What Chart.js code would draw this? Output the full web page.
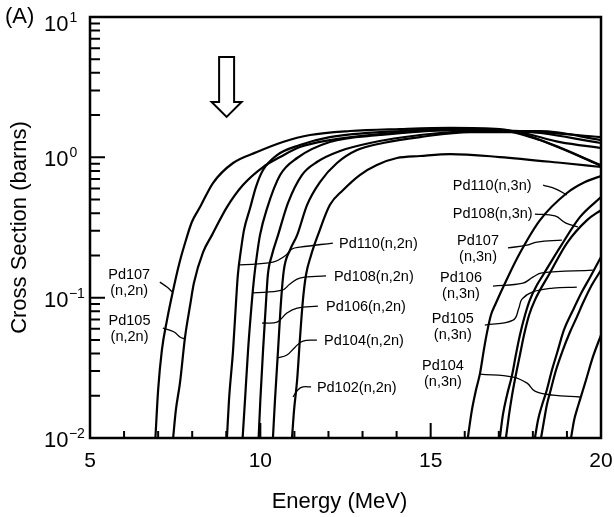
<!DOCTYPE html>
<html>
<head>
<meta charset="utf-8">
<script src="https://cdn.jsdelivr.net/npm/chart.js@4.4.0/dist/chart.umd.min.js"></script>
<style>
  html, body { margin: 0; padding: 0; background: #fff; }
  #wrap { width: 614px; height: 517px; position: relative; }
</style>
</head>
<body>
<div id="wrap"><canvas id="xs-chart"></canvas></div>
<script>
// Pd (n,2n) / (n,3n) cross sections: [energy (MeV), cross section (barns)]
const pd107n2n = [[6.92,0.010],[7.00,0.0220],[7.11,0.0423],[7.26,0.0692],[7.44,0.113],[7.61,0.171],[7.79,0.245],[7.99,0.346],[8.23,0.442],[8.61,0.656],[9.20,0.911],[9.90,1.09],[10.66,1.285],[11.46,1.442],[12.63,1.54],[14.10,1.59],[15.57,1.62],[17.03,1.59],[17.62,1.49],[18.80,1.165],[20.0,0.87]];
const pd105n2n = [[7.44,0.010],[7.52,0.0158],[7.64,0.0246],[7.79,0.0524],[7.94,0.0886],[8.05,0.127],[8.32,0.211],[8.58,0.279],[9.02,0.442],[9.49,0.635],[10.08,0.853],[10.58,1.005],[11.16,1.184],[12.04,1.328],[13.51,1.466],[15.57,1.565],[17.62,1.54],[20.0,1.265]];
const pd110n2n = [[9.02,0.010],[9.08,0.0186],[9.20,0.0423],[9.29,0.0961],[9.34,0.145],[9.43,0.218],[9.52,0.303],[9.70,0.435],[9.87,0.614],[10.08,0.812],[10.49,1.038],[11.16,1.224],[12.04,1.395],[14.10,1.54],[15.57,1.59],[17.03,1.565],[18.21,1.328],[20.0,0.88]];
const pd108n2n = [[9.48,0.010],[9.55,0.0186],[9.64,0.0423],[9.73,0.0816],[9.81,0.1336],[9.90,0.201],[9.99,0.279],[10.20,0.435],[10.58,0.748],[11.08,0.989],[12.04,1.285],[13.51,1.442],[15.57,1.565],[17.33,1.54],[18.80,1.285],[20.0,1.165]];
const pd106n2n = [[9.95,0.010],[10.00,0.0186],[10.08,0.0423],[10.17,0.0961],[10.22,0.145],[10.34,0.201],[10.52,0.279],[10.81,0.472],[11.22,0.748],[11.66,0.926],[12.34,1.109],[13.22,1.265],[14.69,1.442],[16.45,1.54],[18.21,1.54],[20.0,1.328]];
const pd104n2n = [[10.37,0.010],[10.43,0.0186],[10.52,0.0423],[10.61,0.0961],[10.69,0.157],[10.87,0.218],[11.08,0.279],[11.37,0.457],[11.75,0.667],[12.25,0.911],[12.84,1.127],[13.60,1.265],[14.69,1.395],[16.15,1.514],[17.91,1.514],[20.0,1.395]];
const pd102n2n = [[10.93,0.010],[10.99,0.0158],[11.08,0.0259],[11.16,0.0499],[11.25,0.0961],[11.34,0.145],[11.49,0.201],[11.69,0.279],[12.04,0.457],[12.43,0.585],[12.92,0.748],[13.42,0.882],[14.01,0.989],[14.69,1.022],[15.57,1.055],[17.03,1.005],[18.88,0.911],[20.0,0.853]];

const pd110n3n = [[16.09,0.010],[16.21,0.0158],[16.33,0.0220],[16.45,0.0290],[16.56,0.0423],[16.65,0.0559],[16.77,0.0752],[16.89,0.0886],[17.24,0.136],[17.62,0.208],[18.21,0.357],[19.00,0.557],[19.53,0.667],[20.0,0.736]];
const pd108n3n = [[17.03,0.010],[17.12,0.0146],[17.24,0.0202],[17.39,0.0281],[17.50,0.0390],[17.62,0.0541],[17.77,0.0752],[17.91,0.0961],[18.12,0.123],[18.30,0.145],[18.80,0.229],[19.38,0.375],[20.0,0.521]];
const pd107n3n = [[17.21,0.010],[17.30,0.0146],[17.39,0.0202],[17.50,0.0281],[17.62,0.0390],[17.74,0.0541],[17.89,0.0752],[18.06,0.0961],[18.50,0.150],[19.00,0.245],[19.59,0.357],[20.0,0.421]];
const pd106n3n = [[18.06,0.010],[18.15,0.0134],[18.27,0.0172],[18.41,0.0220],[18.56,0.0305],[18.71,0.0403],[18.91,0.0587],[19.18,0.0816],[19.44,0.110],[19.68,0.140],[20.0,0.195]];
const pd105n3n = [[18.24,0.010],[18.33,0.0134],[18.41,0.0172],[18.50,0.0209],[18.68,0.0305],[18.88,0.0423],[19.09,0.0569],[19.29,0.0727],[19.47,0.0915],[19.73,0.123],[20.0,0.157]];
const pd104n3n = [[19.12,0.010],[19.21,0.0134],[19.29,0.0158],[19.38,0.0186],[19.56,0.0259],[19.76,0.0377],[20.0,0.0541]];

const curves = [pd107n2n, pd105n2n, pd110n2n, pd108n2n, pd106n2n, pd104n2n, pd102n2n,
                pd110n3n, pd108n3n, pd107n3n, pd106n3n, pd105n3n, pd104n3n];

// axis ticks
const xTicks = [5, 10, 15, 20];
const yDecades = [-2, -1, 0, 1];

// curve labels and their leader lines (data coordinates)
const curveLabels = [
  { text: ['Pd110(n,2n)'], at: [12.31, 0.241], align: 'left' },
  { text: ['Pd108(n,2n)'], at: [12.16, 0.140], align: 'left' },
  { text: ['Pd106(n,2n)'], at: [11.93, 0.0857], align: 'left' },
  { text: ['Pd104(n,2n)'], at: [11.87, 0.0491], align: 'left' },
  { text: ['Pd102(n,2n)'], at: [11.66, 0.0227], align: 'left' },
  { text: ['Pd107', '(n,2n)'], at: [6.15, 0.145], align: 'center' },
  { text: ['Pd105', '(n,2n)'], at: [6.16, 0.0681], align: 'center' },
  { text: ['Pd110(n,3n)'], at: [15.65, 0.624], align: 'left' },
  { text: ['Pd108(n,3n)'], at: [15.65, 0.394], align: 'left' },
  { text: ['Pd107', '(n,3n)'], at: [16.39, 0.253], align: 'center' },
  { text: ['Pd106', '(n,3n)'], at: [15.89, 0.138], align: 'center' },
  { text: ['Pd105', '(n,3n)'], at: [15.65, 0.0704], align: 'center' },
  { text: ['Pd104', '(n,3n)'], at: [15.36, 0.0325], align: 'center' }
];
const leaders = [
  [[9.40,0.171],[10.37,0.179],[10.72,0.198],[10.93,0.222],[11.16,0.229],[12.13,0.245]],
  [[9.78,0.108],[10.64,0.113],[10.87,0.125],[11.16,0.138],[11.93,0.143]],
  [[10.05,0.0659],[10.49,0.0670],[10.78,0.0777],[11.08,0.0843],[11.69,0.0871]],
  [[10.49,0.0371],[10.78,0.0390],[11.02,0.0444],[11.25,0.0491],[11.66,0.0499]],
  [[10.96,0.0196],[11.10,0.0220],[11.25,0.0231],[11.49,0.0231]],
  [[7.05,0.129],[7.26,0.119],[7.41,0.110]],
  [[7.14,0.0607],[7.47,0.0569],[7.64,0.0524],[7.79,0.0507]],
  [[18.30,0.635],[18.68,0.594],[19.00,0.539]],
  [[18.06,0.394],[18.65,0.382],[18.97,0.340],[19.32,0.319]],
  [[17.27,0.226],[17.83,0.237],[18.12,0.249],[18.85,0.257]],
  [[16.83,0.121],[17.71,0.127],[18.00,0.140],[18.27,0.150],[19.76,0.157]],
  [[16.59,0.0638],[17.42,0.0692],[17.59,0.0843],[17.68,0.0977],[18.00,0.110],[18.59,0.117],[19.29,0.119]],
  [[16.45,0.0285],[17.42,0.0272],[17.83,0.0246],[18.06,0.0216],[18.59,0.0202],[19.38,0.0196]]
];

// hollow arrow marker
const arrowMark = { energy: 9.01, top: 5.19, headBase: 2.48, tip: 1.94 };

const FONT = '"Liberation Sans", Arial, sans-serif';

function toXY(pts) {
    return pts.map(p => ({ x: p[0], y: p[1] }));
}

const datasets = [];
curves.forEach(c => {
    datasets.push({
        data: toXY(c),
        showLine: true,
        borderColor: '#000',
        borderWidth: 2.2,
        pointRadius: 0,
        cubicInterpolationMode: 'monotone'
    });
});
leaders.forEach(l => {
    datasets.push({
        data: toXY(l),
        showLine: true,
        borderColor: '#000',
        borderWidth: 1.3,
        pointRadius: 0,
        tension: 0.4
    });
});

const decorPlugin = {
    id: 'decor',
    beforeDraw(chart) {
        const ctx = chart.ctx;
        ctx.save();
        ctx.fillStyle = '#fff';
        ctx.fillRect(0, 0, chart.width, chart.height);
        ctx.restore();
    },
    afterDatasetsDraw(chart) {
        const { ctx, chartArea: a, scales: { x, y } } = chart;
        ctx.save();
        ctx.strokeStyle = '#000';
        ctx.fillStyle = '#000';

        // frame
        ctx.lineWidth = 2.5;
        ctx.strokeRect(a.left, a.top, a.right - a.left, a.bottom - a.top);

        // inward ticks
        ctx.lineWidth = 2;
        ctx.beginPath();
        for (let e = 5; e <= 20; e++) {
            const px = x.getPixelForValue(e);
            const len = xTicks.includes(e) ? 15 : 7;
            ctx.moveTo(px, a.bottom);
            ctx.lineTo(px, a.bottom - len);
        }
        yDecades.forEach(d => {
            const steps = d < 1 ? 9 : 1;
            for (let m = 1; m <= steps; m++) {
                const py = y.getPixelForValue(m * Math.pow(10, d));
                const len = m === 1 ? 15 : 10;
                ctx.moveTo(a.left, py);
                ctx.lineTo(a.left + len, py);
            }
        });
        ctx.stroke();

        // x tick labels
        ctx.font = '21px ' + FONT;
        ctx.textAlign = 'center';
        ctx.textBaseline = 'middle';
        xTicks.forEach(t => {
            ctx.fillText(String(t), x.getPixelForValue(t), a.bottom + 23);
        });

        // y tick labels 10^n
        yDecades.forEach(d => {
            let py = y.getPixelForValue(Math.pow(10, d)) + 3;
            py = Math.max(py, a.top + 8);
            ctx.font = '22px ' + FONT;
            ctx.textAlign = 'left';
            const x0 = a.left - 46;
            ctx.fillText('10', x0, py);
            const w = ctx.measureText('10').width;
            ctx.font = '14px ' + FONT;
            if (d < 0) {
                ctx.fillText('\u2212', x0 + w + 0.5, py - 7);
                ctx.fillText(String(-d), x0 + w + 8.5, py - 7);
            } else {
                ctx.fillText(String(d), x0 + w + 1, py - 7);
            }
        });

        // axis titles
        ctx.font = '22px ' + FONT;
        ctx.textAlign = 'center';
        ctx.fillText('Energy (MeV)', (a.left + a.right) / 2 - 6, a.bottom + 64);
        ctx.save();
        ctx.translate(20, (a.top + a.bottom) / 2);
        ctx.rotate(-Math.PI / 2);
        ctx.fillText('Cross Section (barns)', 0, 0);
        ctx.restore();

        ctx.textAlign = 'left';
        ctx.fillText('(A)', 5, a.top);

        // curve labels
        ctx.font = '14.5px ' + FONT;
        curveLabels.forEach(lb => {
            const px = x.getPixelForValue(lb.at[0]);
            const py = y.getPixelForValue(lb.at[1]);
            ctx.textAlign = lb.align;
            lb.text.forEach((t, i) => ctx.fillText(t, px, py + i * 16));
        });

        // hollow down arrow
        const ax = x.getPixelForValue(arrowMark.energy);
        const yTop = y.getPixelForValue(arrowMark.top);
        const yBase = y.getPixelForValue(arrowMark.headBase);
        const yTip = y.getPixelForValue(arrowMark.tip);
        ctx.beginPath();
        ctx.moveTo(ax - 7.5, yTop);
        ctx.lineTo(ax + 7.5, yTop);
        ctx.lineTo(ax + 7.5, yBase);
        ctx.lineTo(ax + 15, yBase);
        ctx.lineTo(ax, yTip);
        ctx.lineTo(ax - 15, yBase);
        ctx.lineTo(ax - 7.5, yBase);
        ctx.closePath();
        ctx.fillStyle = '#fff';
        ctx.fill();
        ctx.lineWidth = 2;
        ctx.lineJoin = 'miter';
        ctx.stroke();

        ctx.restore();
    }
};

new Chart(document.getElementById('xs-chart'), {
    type: 'scatter',
    data: { datasets: datasets },
    options: {
        responsive: true,
        maintainAspectRatio: false,
        animation: false,
        layout: { padding: { left: 90, right: 13, top: 17, bottom: 79 } },
        plugins: {
            legend: { display: false },
            tooltip: { enabled: false }
        },
        scales: {
            x: { type: 'linear', min: 5, max: 20, display: false },
            y: { type: 'logarithmic', min: 0.01, max: 10, display: false }
        }
    },
    plugins: [decorPlugin]
});
</script>
</body>
</html>
